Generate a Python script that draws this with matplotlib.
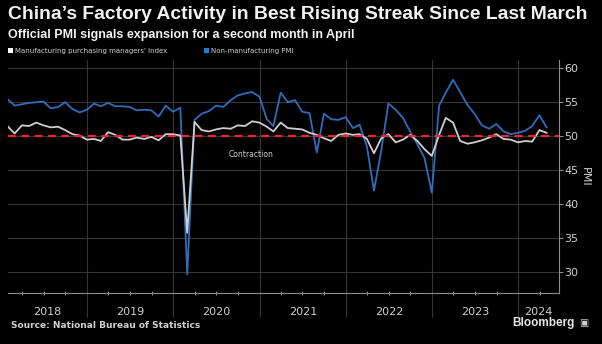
import matplotlib
matplotlib.use("Agg")
import matplotlib.pyplot as plt
import matplotlib.dates as mdates
from matplotlib.patches import Patch
import pandas as pd

# monthly official PMI, Jan 2018 - Apr 2024
manufacturing = [
    51.3, 50.3, 51.5, 51.4, 51.9, 51.5, 51.2, 51.3, 50.8, 50.2, 50.0, 49.4,
    49.5, 49.2, 50.5, 50.1, 49.4, 49.4, 49.7, 49.5, 49.8, 49.3, 50.2, 50.2,
    50.0, 35.7, 52.0, 50.8, 50.6, 50.9, 51.1, 51.0, 51.5, 51.4, 52.1, 51.9,
    51.3, 50.6, 51.9, 51.1, 51.0, 50.9, 50.4, 50.1, 49.6, 49.2, 50.1, 50.3,
    50.1, 50.2, 49.5, 47.4, 49.6, 50.2, 49.0, 49.4, 50.1, 49.2, 48.0, 47.0,
    50.1, 52.6, 51.9, 49.2, 48.8, 49.0, 49.3, 49.7, 50.2, 49.5, 49.4, 49.0,
    49.2, 49.1, 50.8, 50.4,
]
non_manufacturing = [
    55.3, 54.4, 54.6, 54.8, 54.9, 55.0, 54.0, 54.2, 54.9, 53.9, 53.4, 53.8,
    54.7, 54.3, 54.8, 54.3, 54.3, 54.2, 53.7, 53.8, 53.7, 52.8, 54.4, 53.5,
    54.1, 29.6, 52.3, 53.2, 53.6, 54.4, 54.2, 55.2, 55.9, 56.2, 56.4, 55.7,
    52.4, 51.4, 56.3, 54.9, 55.2, 53.5, 53.3, 47.5, 53.2, 52.4, 52.3, 52.7,
    51.1, 51.6, 48.4, 41.9, 47.8, 54.7, 53.8, 52.6, 50.6, 48.7, 46.7, 41.6,
    54.4, 56.3, 58.2, 56.4, 54.5, 53.2, 51.5, 51.0, 51.7, 50.6, 50.2, 50.4,
    50.7, 51.4, 53.0, 51.2,
]
dates = pd.date_range("2018-01-31", periods=len(manufacturing), freq="ME")
years = [2018, 2019, 2020, 2021, 2022, 2023, 2024]
yticks = [30, 35, 40, 45, 50, 55, 60]

bg = "black"
grid_c = "#363636"
axis_c = "#8c8c8c"
text_c = "#d0d0d0"
blue = "#2f6cbd"
white = "#cfcfcf"
red = "#e8283a"

fig = plt.figure(figsize=(6.02, 3.44), dpi=100, facecolor=bg)
ax = fig.add_axes([0.0133, 0.1474, 0.915, 0.678], facecolor=bg)

ax.plot(dates, non_manufacturing, color=blue, lw=1.3, zorder=3)
ax.plot(dates, manufacturing, color=white, lw=1.3, zorder=4)
ax.axhline(50, color=red, lw=1.6, ls=(0, (3.5, 2.5)), zorder=5)

x_right = pd.Timestamp("2024-06-21")
ax.set_xlim(dates[0], x_right)
ax.set_ylim(26.8, 61.1)

ax.yaxis.tick_right()
ax.set_yticks(yticks)
ax.tick_params(axis="y", colors=axis_c, labelcolor=text_c, labelsize=8,
               length=3, width=0.8, pad=1)
ax.yaxis.set_label_position("right")
ax.set_ylabel("PMI", color=text_c, fontsize=8, rotation=270, labelpad=8)
ax.grid(axis="y", color=grid_c, lw=0.8)

ax.xaxis.set_major_locator(mdates.YearLocator())
ax.xaxis.set_minor_locator(mdates.MonthLocator(bymonth=[4, 7, 10]))
ax.xaxis.set_major_formatter(plt.NullFormatter())
ax.tick_params(axis="x", which="major", colors=grid_c, length=17, width=0.8)
ax.tick_params(axis="x", which="minor", colors=axis_c, length=3,
               width=0.8, direction="inout")
ax.grid(axis="x", which="major", color=grid_c, lw=0.8)

for side in ["top", "left"]:
    ax.spines[side].set_visible(False)
for side in ["bottom", "right"]:
    ax.spines[side].set_color(axis_c)
    ax.spines[side].set_linewidth(0.8)

# year labels centred in each year span
for y in years:
    start = max(pd.Timestamp(f"{y}-01-01"), dates[0])
    end = min(pd.Timestamp(f"{y + 1}-01-01"), x_right)
    mid = start + (end - start) / 2
    ax.text(mdates.date2num(mid), -0.08, str(y), transform=ax.get_xaxis_transform(),
            ha="center", va="center", color=text_c, fontsize=8)

ax.text(pd.Timestamp("2020-11-25"), 47.2, "Contraction", color=text_c,
        fontsize=5.5, ha="center", va="center")

fig.text(0.013, 0.958, "China\u2019s Factory Activity in Best Rising Streak Since Last March",
         color="#f2f2f2", fontsize=13.9, fontweight="bold", va="center",
         fontfamily="Liberation Sans")
fig.text(0.013, 0.898, "Official PMI signals expansion for a second month in April",
         color="#f2f2f2", fontsize=9.0, fontweight="bold", va="center",
         fontfamily="Liberation Sans")

handles = [Patch(facecolor="white", edgecolor="none",
                 label="Manufacturing purchasing managers' index"),
           Patch(facecolor="#1e7be0", edgecolor="none", label="Non-manufacturing PMI")]
fig.legend(handles=handles, loc="center left", bbox_to_anchor=(0.014, 0.853),
           ncol=2, frameon=False, fontsize=5, labelcolor=text_c,
           handlelength=0.7, handleheight=0.7, handletextpad=0.3,
           columnspacing=5.3, borderpad=0, borderaxespad=0)

fig.text(0.018, 0.055, "Source: National Bureau of Statistics", color=text_c,
         fontsize=6.5, fontweight="bold", va="center")
fig.text(0.955, 0.06, "Bloomberg", color="#e6e6e6", fontsize=8.5,
         fontweight="bold", va="center", ha="right", fontfamily="Liberation Sans")
fig.text(0.962, 0.06, "\u25A3", color="#cfcfcf", fontsize=7, va="center", ha="left")

fig.savefig("out.png", dpi=100, facecolor=bg)
